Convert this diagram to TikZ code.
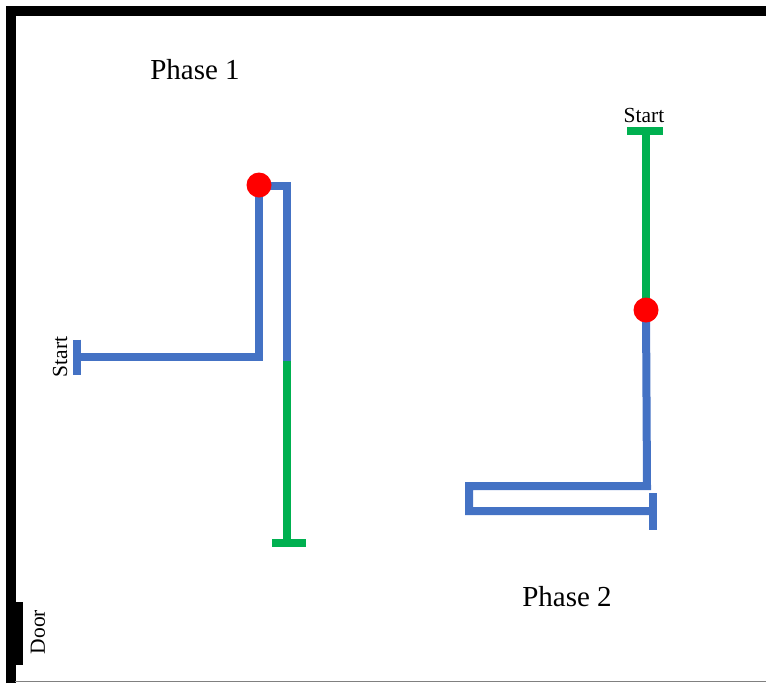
\documentclass[tikz,border=0pt]{standalone}
\usepackage{fontspec}
\setmainfont{Liberation Serif}
\definecolor{pathblue}{HTML}{4472C4}
\definecolor{pathgreen}{HTML}{00B050}
\definecolor{markred}{HTML}{FF0000}
\tikzset{
  wall/.style={line width=10pt, black},
  bluepath/.style={line width=8pt, pathblue, line join=miter},
  greenpath/.style={line width=8pt, pathgreen, line join=miter},
  turnmark/.style={circle, fill=markred, inner sep=0pt, minimum size=25pt},
  phaselabel/.style={font=\fontsize{29}{32}\selectfont},
  smalllabel/.style={font=\fontsize{21.5}{24}\selectfont, inner sep=0pt},
}
\begin{document}
\begin{tikzpicture}[x=1pt, y=-1pt]
\useasboundingbox (0,0) rectangle (766,683);

% room walls
\draw[wall] (10.5,683) -- (10.5,10.5) -- (766,10.5);
\draw[gray, line width=1pt] (15,681) -- (766,681);
\fill[black] (7,602) rectangle (23,665);
\node[smalllabel, rotate=90] (door) at (38,632) {Door};

% ---- phase 1 ----
\node[phaselabel] (p1) at (195,70) {Phase 1};
\coordinate (s1) at (77,357);
\coordinate (c1) at (259,357);
\coordinate (t1) at (259,186);
\coordinate (t2) at (286.5,186);
\coordinate (sw1) at (286.5,361);
\coordinate (e1) at (286.5,543);
\draw[bluepath] (s1) -- (c1) -- (t1) -- (t2) -- (sw1);
\draw[bluepath] (77,339.5) -- (77,375);
\draw[greenpath] (sw1) -- (e1);
\draw[greenpath] (272,543) -- (306,543);
\node[turnmark] (r1) at (259,185) {};
\node[smalllabel, rotate=90] (start1) at (60,357) {Start};

% ---- phase 2 ----
\node[phaselabel] (p2) at (567,597) {Phase 2};
\node[smalllabel] (start2) at (644,115) {Start};
\coordinate (s2) at (646,131);
\coordinate (m2) at (646,310);
\coordinate (a2) at (648,486);
\coordinate (b2) at (469,486);
\coordinate (c2) at (469,511);
\coordinate (e2) at (653,511);
\draw[greenpath] (627,131) -- (663,131);
\draw[greenpath] (s2) -- (m2);
\draw[bluepath] (m2) -- (647,486) -- (b2) -- (c2) -- (e2);
\draw[bluepath] (653,493) -- (653,530);
\node[turnmark] (r2) at (m2) {};
\end{tikzpicture}
\end{document}
